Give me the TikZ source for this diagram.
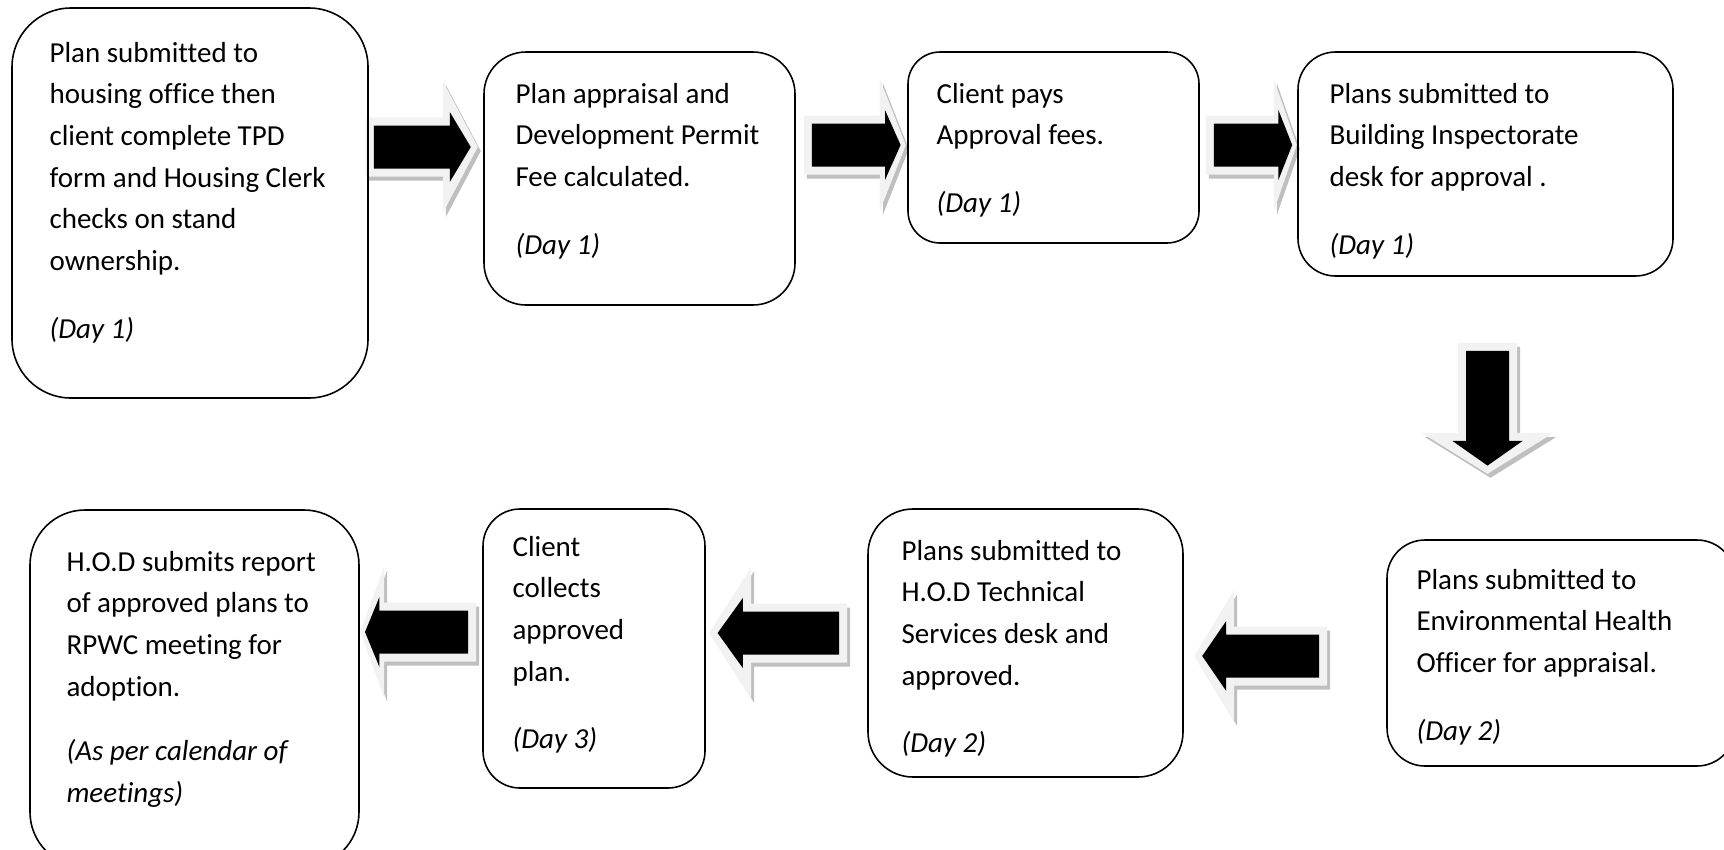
\documentclass[tikz,border=0pt]{standalone}
\usepackage{fontspec}
\setmainfont{Carlito}[Ligatures={NoCommon,NoRare,NoContextual}, Contextuals=NoAlternate]
\usepackage{tikz}
\usepackage{xcolor}
\usetikzlibrary{calc,fit}
\pgfdeclarelayer{background}
\pgfsetlayers{background,main}

\definecolor{arrowlight}{HTML}{F2F2F2}
\definecolor{arrowshade}{HTML}{BFBFBF}

\tikzset{
  box/.style={draw, line width=0.9pt, inner sep=0pt, rounded corners=#1},
  txt/.style={font=\fontsize{16.5}{23.65}\selectfont, align=left, inner sep=0pt, anchor=north west}
}

% #1 tail point, #2 angle, #3 length, #4 head length
\newcommand{\blockarrow}[4]{%
  \begin{pgfonlayer}{background}
  \begin{scope}[shift={#1}]
    \fill[arrowshade, shift={(3,4)}, rotate=#2] (0,-29.5) -- ({#3-#4},-29.5) -- ({#3-#4},-66) -- (#3,0) -- ({#3-#4},66) -- ({#3-#4},29.5) -- (0,29.5) -- cycle;
    \fill[arrowlight, rotate=#2] (0,-29.5) -- ({#3-#4},-29.5) -- ({#3-#4},-66) -- (#3,0) -- ({#3-#4},66) -- ({#3-#4},29.5) -- (0,29.5) -- cycle;
    \fill[black, rotate=#2] (8,-21.5) -- ({#3-0.8*#4},-21.5) -- ({#3-0.8*#4},-35) -- ({#3-0.2*#4},0) -- ({#3-0.8*#4},35) -- ({#3-0.8*#4},21.5) -- (8,21.5) -- cycle;
  \end{scope}
  \end{pgfonlayer}}

\begin{document}
\begin{tikzpicture}[x=0.02cm, y=-0.02cm]
                \useasboundingbox (0,0) rectangle (1724,849);
                \node[box=1.18cm, fit={(12,8) (368,398)}] (plan) {};
                \node[box=0.84cm, fit={(484,52) (795,305)}] (appraisal) {};
                \node[box=0.64cm, fit={(908,52) (1199,243)}] (fees) {};
                \node[box=0.75cm, fit={(1298,52) (1673,276)}] (inspect) {};
                \node[box=0.76cm, fit={(1387,540) (1735,766)}] (env) {};
                \node[box=0.9cm, fit={(868,509) (1183,777)}] (tech) {};
                \node[box=0.74cm, fit={(483,509) (705,788)}] (collect) {};
                \node[box=1.1cm, fit={(30,510) (359,867)}] (report) {};
                \node[txt] (plantext) at ($(plan.north west)+(38,32)$) {\rule{0pt}{13pt}Plan submitted to\\housing office then\\client complete TPD\\form and Housing Clerk\\checks on stand\\ownership.\\[15pt]\textit{(Day 1)}};
                \node[txt] (appraisaltext) at ($(appraisal.north west)+(32,29)$) {\rule{0pt}{13pt}Plan appraisal and\\Development Permit\\Fee calculated.\\[15pt]\textit{(Day 1)}};
                \node[txt] (feestext) at ($(fees.north west)+(29,29)$) {\rule{0pt}{13pt}Client pays\\Approval fees.\\[15pt]\textit{(Day 1)}};
                \node[txt] (inspecttext) at ($(inspect.north west)+(32,29)$) {\rule{0pt}{13pt}Plans submitted to\\Building Inspectorate\\desk for approval .\\[15pt]\textit{(Day 1)}};
                \node[txt] (envtext) at ($(env.north west)+(30,27)$) {\rule{0pt}{13pt}Plans submitted to\\Environmental Health\\Officer for appraisal.\\[15pt]\textit{(Day 2)}};
                \node[txt] (techtext) at ($(tech.north west)+(34,29)$) {\rule{0pt}{13pt}Plans submitted to\\H.O.D Technical\\Services desk and\\approved.\\[15pt]\textit{(Day 2)}};
                \node[txt] (collecttext) at ($(collect.north west)+(30,25)$) {\rule{0pt}{13pt}Client\\collects\\approved\\plan.\\[15pt]\textit{(Day 3)}};
                \node[txt] (reporttext) at ($(report.north west)+(37,39)$) {\rule{0pt}{13pt}H.O.D submits report\\of approved plans to\\RPWC meeting for\\adoption.\\[13pt]\textit{(As per calendar of}\\\textit{meetings)}};
                \blockarrow{($(plan.east)+(-3,-56)$)}{0}{112}{35}
                \blockarrow{($(appraisal.east)+(8,-33.5)$)}{0}{102}{26}
                \blockarrow{($(fees.east)+(6,-2.5)$)}{0}{91}{23}
                \blockarrow{($(inspect.south)+(2,66)$)}{-90}{131}{41}
                \blockarrow{($(env.west)+(-59,3)$)}{180}{133}{40}
                \blockarrow{($(tech.west)+(-20,-10)$)}{180}{138}{42}
                \blockarrow{($(collect.west)+(-6,-16.5)$)}{180}{116}{24}
            \end{tikzpicture}
\end{document}
